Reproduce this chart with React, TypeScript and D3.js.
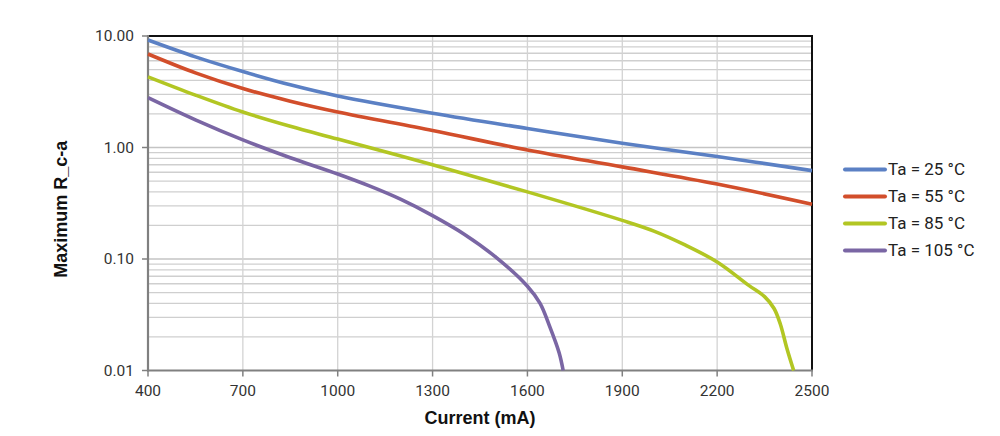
import React from "react";
import * as d3 from "d3";

const xTicks = [400, 700, 1000, 1300, 1600, 1900, 2200, 2500];
const yTicks = [0.01, 0.1, 1, 10];
const yTickLabels = ["0.01", "0.10", "1.00", "10.00"];

const seriesNames = ["Ta = 25 °C", "Ta = 55 °C", "Ta = 85 °C", "Ta = 105 °C"];
const seriesColors = ["#5b80c4", "#d24e2b", "#b2c623", "#7a66a4"];

const ta25X = [400, 550, 700, 850, 1000, 1300, 1600, 1900, 2200, 2500];
const ta25Y = [9.2, 6.5, 4.8, 3.65, 2.9, 2.03, 1.48, 1.09, 0.83, 0.62];

const ta55X = [400, 550, 700, 850, 1000, 1300, 1600, 1900, 2200, 2500];
const ta55Y = [6.9, 4.67, 3.38, 2.6, 2.08, 1.42, 0.95, 0.67, 0.47, 0.31];

const ta85X = [400, 550, 700, 850, 1000, 1300, 1600, 1900, 2000, 2100, 2200, 2300, 2350, 2380, 2400, 2420, 2442];
const ta85Y = [4.3, 2.95, 2.08, 1.55, 1.19, 0.7, 0.4, 0.222, 0.178, 0.133, 0.094, 0.058, 0.046, 0.036, 0.026, 0.016, 0.01];

const ta105X = [400, 550, 700, 850, 1000, 1100, 1200, 1300, 1400, 1500, 1600, 1640, 1670, 1700, 1713];
const ta105Y = [2.8, 1.77, 1.17, 0.81, 0.578, 0.452, 0.342, 0.245, 0.167, 0.104, 0.057, 0.04, 0.025, 0.0145, 0.01];

const seriesX = [ta25X, ta55X, ta85X, ta105X];
const seriesY = [ta25Y, ta55Y, ta85Y, ta105Y];

export default function App() {
  const W = 1000;
  const H = 436;
  const left = 148;
  const right = 812;
  const top = 36;
  const bottom = 370.5;

  const x = d3.scaleLinear().domain([400, 2500]).range([left, right]);
  const y = d3.scaleLog().domain([0.01, 10]).range([bottom, top]);

  const minor: number[] = [];
  for (let k = -2; k <= 0; k++) {
    for (let i = 2; i <= 9; i++) minor.push(i * Math.pow(10, k));
  }

  const line = d3
    .line<[number, number]>()
    .x((d) => x(d[0]))
    .y((d) => y(d[1]))
    .curve(d3.curveCatmullRom.alpha(0.5));

  const tickFont = "Roboto, 'Noto Sans', sans-serif";
  const titleFont = "'Liberation Sans', Arial, sans-serif";

  return (
    <svg
      width={W}
      height={H}
      style={{ position: "absolute", left: 0, top: 0, display: "block", background: "#fff" }}
    >
      <rect x={0} y={0} width={W} height={H} fill="#fff" />
      {minor.map((v, i) => (
        <line key={"m" + i} x1={left} x2={right} y1={y(v)} y2={y(v)} stroke="#cfcfcf" strokeWidth={1.3} />
      ))}
      {yTicks.slice(1, 3).map((v, i) => (
        <line key={"M" + i} x1={left} x2={right} y1={y(v)} y2={y(v)} stroke="#c4c4c4" strokeWidth={1.4} />
      ))}
      {xTicks.slice(1, -1).map((v, i) => (
        <line key={"v" + i} x1={x(v)} x2={x(v)} y1={top} y2={bottom} stroke="#d3d3d3" strokeWidth={1.3} />
      ))}
      <line x1={left} x2={right + 1} y1={top} y2={top} stroke="#111" strokeWidth={2.2} />
      <line x1={right} x2={right} y1={top} y2={bottom} stroke="#111" strokeWidth={2} />
      <line x1={left} x2={left} y1={top - 1} y2={bottom + 1} stroke="#808080" strokeWidth={2.2} />
      <line x1={left - 1} x2={right + 1} y1={bottom} y2={bottom} stroke="#808080" strokeWidth={2.2} />
      {yTicks.map((v, i) => (
        <g key={"yt" + i}>
          <line x1={left - 6} x2={left} y1={y(v)} y2={y(v)} stroke="#808080" strokeWidth={1.5} />
          <text
            x={left - 14}
            y={y(v)}
            dy="0.35em"
            textAnchor="end"
            fontFamily={tickFont}
            fontSize={15.5}
            fill="#333"
          >
            {yTickLabels[i]}
          </text>
        </g>
      ))}
      {xTicks.map((v, i) => (
        <g key={"xt" + i}>
          <line x1={x(v)} x2={x(v)} y1={bottom} y2={bottom + 6} stroke="#808080" strokeWidth={1.5} />
          <text
            x={x(v)}
            y={bottom + 20}
            dy="0.35em"
            textAnchor="middle"
            fontFamily={tickFont}
            fontSize={15.5}
            fill="#333"
          >
            {v}
          </text>
        </g>
      ))}
      <g>
        {seriesX.map((xs, si) => {
          const pts = xs.map((xv, j) => [xv, seriesY[si][j]] as [number, number]);
          return (
            <path
              key={"s" + si}
              d={line(pts) || ""}
              fill="none"
              stroke={seriesColors[si]}
              strokeWidth={3.6}
              strokeLinejoin="round"
            />
          );
        })}
      </g>
      <text
        x={480}
        y={418}
        dy="0.35em"
        textAnchor="middle"
        fontFamily={titleFont}
        fontWeight="bold"
        fontSize={18}
        fill="#111"
      >
        Current (mA)
      </text>
      <text
        transform={`translate(61, ${(top + bottom) / 2 + 6}) rotate(-90)`}
        dy="0.35em"
        textAnchor="middle"
        fontFamily={titleFont}
        fontWeight="bold"
        fontSize={18}
        fill="#111"
      >
        Maximum R_c-a
      </text>
      {seriesNames.map((name, i) => {
        const ly = 169.5 + i * 27;
        return (
          <g key={"lg" + i}>
            <line x1={845} x2={885} y1={ly} y2={ly} stroke={seriesColors[i]} strokeWidth={4} strokeLinecap="round" />
            <text x={888} y={ly} dy="0.35em" fontFamily={tickFont} fontSize={17} fill="#222">
              {name}
            </text>
          </g>
        );
      })}
    </svg>
  );
}
